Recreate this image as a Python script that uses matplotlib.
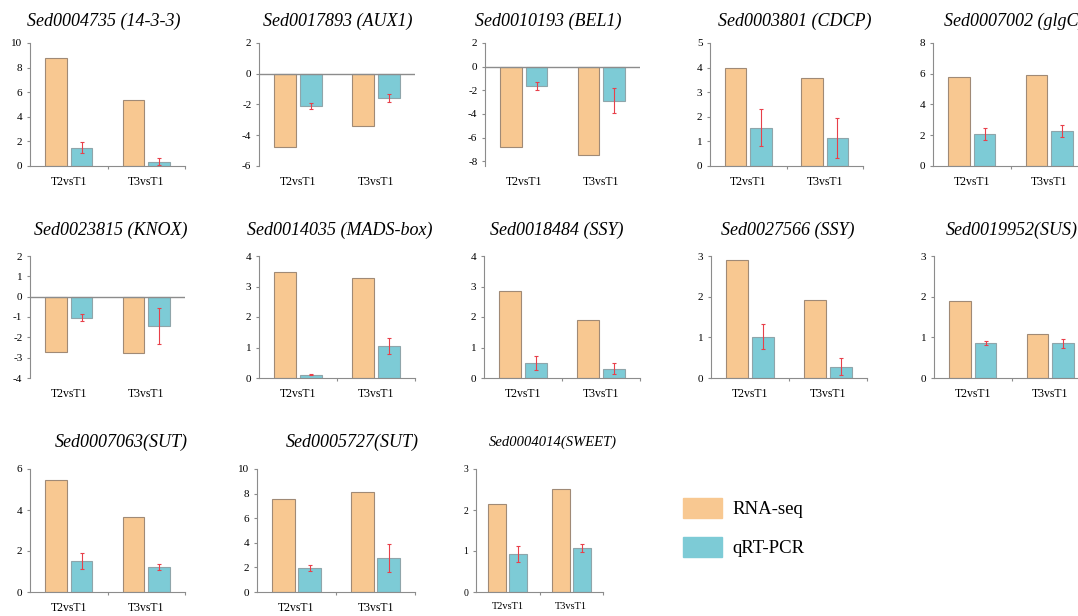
import matplotlib
matplotlib.use("Agg")
import matplotlib.pyplot as plt
from matplotlib.patches import Patch

plt.rcParams['font.family'] = ['Liberation Serif', 'DejaVu Serif']
plt.rcParams['axes.unicode_minus'] = False

# ---------------- data ----------------
genes = ["Sed0004735 (14-3-3)", "Sed0017893 (AUX1)", "Sed0010193 (BEL1)",
         "Sed0003801 (CDCP)", "Sed0007002 (glgC)", "Sed0023815 (KNOX)",
         "Sed0014035 (MADS-box)", "Sed0018484 (SSY)", "Sed0027566 (SSY)",
         "Sed0019952(SUS)", "Sed0007063(SUT)", "Sed0005727(SUT)",
         "Sed0004014(SWEET)"]
groups = ["T2vsT1", "T3vsT1"]

rna_seq = [[8.8, 5.4], [-4.78, -3.39], [-6.8, -7.51], [3.98, 3.57], [5.76, 5.91],
           [-2.74, -2.79], [3.48, 3.29], [2.86, 1.91], [2.89, 1.91], [1.90, 1.07],
           [5.46, 3.66], [7.59, 8.11], [2.14, 2.51]]
qpcr = [[1.5, 0.35], [-2.09, -1.57], [-1.66, -2.89], [1.55, 1.14], [2.07, 2.26],
        [-1.03, -1.44], [0.11, 1.05], [0.49, 0.31], [1.02, 0.28], [0.86, 0.85],
        [1.51, 1.2], [1.95, 2.76], [0.93, 1.08]]
qpcr_err = [[0.45, 0.27], [0.2, 0.24], [0.33, 1.07], [0.75, 0.82], [0.4, 0.4],
            [0.16, 0.9], [0.02, 0.26], [0.24, 0.17], [0.31, 0.21], [0.04, 0.11],
            [0.39, 0.15], [0.24, 1.12], [0.2, 0.1]]

y_lims = [(0, 10), (-6, 2), (-8.4, 2), (0, 5), (0, 8), (-4, 2), (0, 4), (0, 4),
          (0, 3), (0, 3), (0, 6), (0, 10), (0, 3)]
y_ticks = [range(0, 11, 2), range(-6, 3, 2), range(-8, 3, 2), range(0, 6),
           range(0, 9, 2), range(-4, 3), range(0, 5), range(0, 5), range(0, 4),
           range(0, 4), range(0, 7, 2), range(0, 11, 2), range(0, 4)]

# ---------------- layout (pixels) ----------------
W, H = 1078, 616
# left, right, top, bottom
boxes = [(30, 185, 43, 166), (259, 415, 43, 166), (485, 640, 43, 166),
         (710, 863, 43, 166), (933, 1088, 43, 166),
         (30, 185, 256, 378), (259, 415, 256, 378), (484, 640, 256, 378),
         (711, 867, 256, 378), (934, 1089, 256, 378),
         (30, 185, 469, 592), (257, 415, 469, 592), (476, 603, 469, 592)]
title_pos = [(104, 21), (338, 21), (548, 21), (795, 21), (1014, 21),
             (111, 230), (340, 230), (557, 230), (788, 230), (1012, 230),
             (121, 442), (352, 442), (553, 442)]

orange = '#F8C891'
teal = '#7DCBD6'
grey = '#8C8C8C'

fig = plt.figure(figsize=(W / 100, H / 100), dpi=100)

for i, gene in enumerate(genes):
    l, r, t, b = boxes[i]
    ax = fig.add_axes([l / W, 1 - b / H, (r - l) / W, (b - t) / H])
    x = [0.5, 1.5]
    xo = [v - 0.165 for v in x]
    xq = [v + 0.165 for v in x]
    ax.bar(xo, rna_seq[i], width=0.28, color=orange, edgecolor='#A08A76', linewidth=0.8)
    ax.bar(xq, qpcr[i], width=0.28, color=teal, edgecolor='#8FA5AA', linewidth=0.8)
    ax.errorbar(xq, qpcr[i], yerr=qpcr_err[i], fmt='none', ecolor='#E8404A',
                elinewidth=0.8, capsize=1.5, capthick=0.8)

    ax.set_xlim(0, 2)
    ax.set_ylim(*y_lims[i])
    ax.set_yticks(list(y_ticks[i]))
    ax.set_xticks(x)
    ax.set_xticklabels(groups)
    ax.set_xticks([1.0, 2.0], minor=True)

    for s in ['top', 'right']:
        ax.spines[s].set_visible(False)
    ax.spines['left'].set_color(grey)
    ax.spines['bottom'].set_color(grey)
    neg = y_lims[i][0] < 0
    if neg:
        ax.axhline(0, color=grey, lw=1)
        ax.spines['bottom'].set_visible(False)
        ax.tick_params(axis='x', which='minor', length=0)
    small = i == 12
    ax.tick_params(axis='y', length=2.5, width=0.8, color=grey, pad=3,
                   labelsize=7 if small else 8)
    ax.tick_params(axis='x', which='major', length=0, pad=7,
                   labelsize=7.5 if small else 8.5)
    ax.tick_params(axis='x', which='minor', width=0.8, color=grey)
    if not neg:
        ax.tick_params(axis='x', which='minor', length=2.5)
    ax.patch.set_alpha(0)

    tx, ty = title_pos[i]
    fig.text(tx / W, 1 - ty / H, gene, ha='center', va='center', style='italic',
             fontsize=10.5 if small else 13)

handles = [Patch(facecolor=orange, edgecolor=orange), Patch(facecolor=teal, edgecolor=teal)]
fig.legend(handles, ["RNA-seq", "qRT-PCR"], loc='upper left',
           bbox_to_anchor=(683 / W, 1 - 498 / H), frameon=False, fontsize=13.5,
           handlelength=2.1, handleheight=1.25, handletextpad=0.55,
           labelspacing=1.0, borderpad=0, borderaxespad=0)

fig.savefig("out.png", dpi=100)
